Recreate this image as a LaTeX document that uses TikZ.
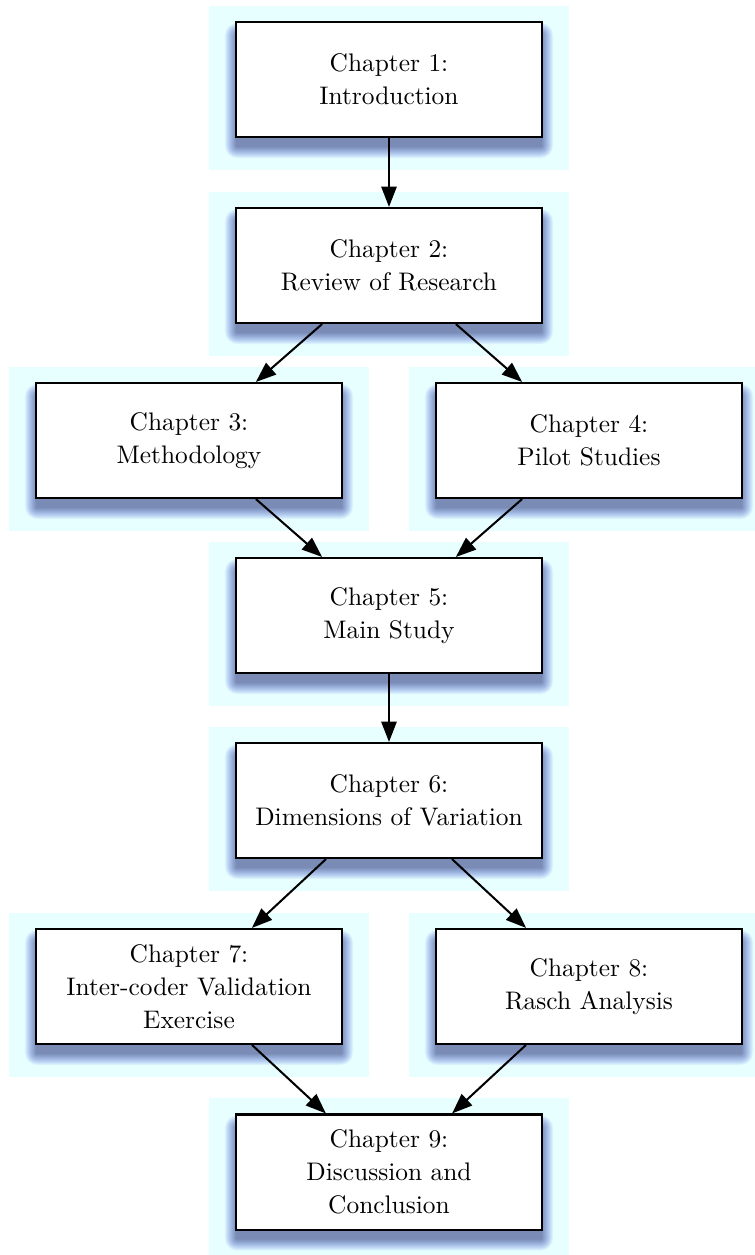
\documentclass[tikz,border=0pt]{standalone}
\usetikzlibrary{arrows.meta,backgrounds,calc}
\definecolor{bgcyan}{RGB}{232,255,255}
\definecolor{shadowblue}{RGB}{55,85,230}
\definecolor{shadowgray}{RGB}{35,40,60}
\tikzset{
  chap/.style={draw, line width=0.8pt, fill=white,
    minimum width=120.5pt, minimum height=45.3pt, inner sep=0pt,
    align=center, font=\fontsize{10}{13}\selectfont},
  conn/.style={-{Triangle[length=8pt,width=6pt]}, line width=0.8pt},
  bgrect/.style={fill=bgcyan, draw=none},
  shadowlayer/.style={draw=none, opacity=0.065}
}
\begin{document}
\begin{tikzpicture}[x=0.3937pt,y=-0.3937pt]
\useasboundingbox (0,0) rectangle (754,1255);
\node[chap] (c1) at (389,79.5) {Chapter 1:\\Introduction};
\node[chap] (c2) at (389,265.5) {Chapter 2:\\Review of Research};
\node[chap] (c3) at (189,440.5) {Chapter 3:\\Methodology};
\node[chap] (c4) at (589,440.5) {Chapter 4:\\Pilot Studies};
\node[chap] (c5) at (389,615.5) {Chapter 5:\\Main Study};
\node[chap] (c6) at (389,800.5) {Chapter 6:\\Dimensions of Variation};
\node[chap] (c7) at (189,986.5) {Chapter 7:\\Inter-coder Validation\\Exercise};
\node[chap] (c8) at (589,986.5) {Chapter 8:\\Rasch Analysis};
\node[chap] (c9) at (389,1172) {Chapter 9:\\Discussion and\\Conclusion};
\begin{scope}[on background layer]
\foreach \n in {c1,c2,c3,c4,c5,c6,c7,c8,c9}{
  \fill[bgrect] ($(\n.south west)+(-26,32)$) rectangle ($(\n.north east)+(26,-15)$);
}
\foreach \n in {c1,c2,c3,c4,c5,c6,c7,c8,c9}{
  \foreach \k in {1,...,12}{
    \pgfmathsetmacro{\e}{13-\k}
    \pgfmathsetmacro{\ex}{\e-2}
    \pgfmathsetmacro{\p}{(\e-1)/11*100}
    \fill[shadowlayer, fill=shadowblue!\p!shadowgray, rounded corners=\e*0.4pt]
      ($(\n.south west)+({-\ex},{8+\e})$) rectangle ($(\n.north east)+({\ex},{14-\e})$);
  }
}
\end{scope}
\draw[conn] (c1) -- (c2);
\draw[conn] (c2) -- (c3);
\draw[conn] (c2) -- (c4);
\draw[conn] (c3) -- (c5);
\draw[conn] (c4) -- (c5);
\draw[conn] (c5) -- (c6);
\draw[conn] (c6) -- (c7);
\draw[conn] (c6) -- (c8);
\draw[conn] (c7) -- (c9);
\draw[conn] (c8) -- (c9);
\end{tikzpicture}
\end{document}
